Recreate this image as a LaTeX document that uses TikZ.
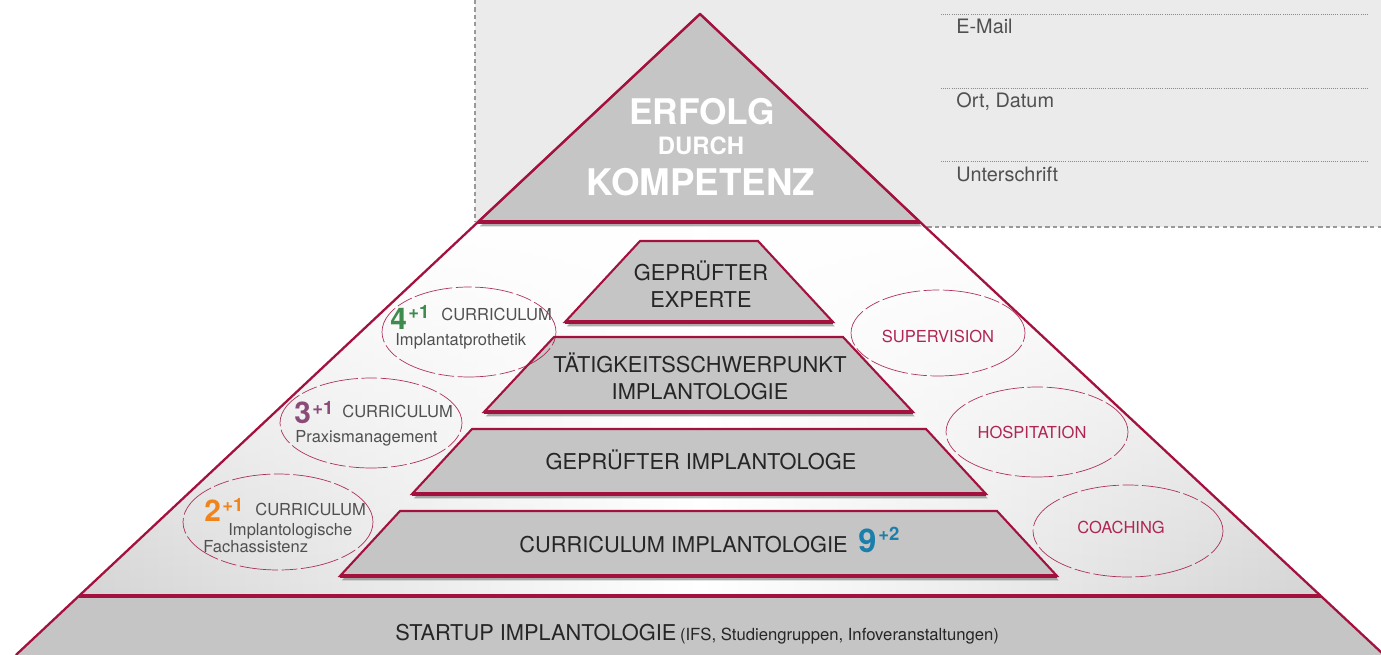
\documentclass[tikz,border=0pt]{standalone}
\usepackage{fontspec}
\setmainfont{TeX Gyre Heros}
\usetikzlibrary{shadows,fadings}
\definecolor{crim}{HTML}{A3123F}
\definecolor{fillg}{HTML}{C4C5C4}
\definecolor{panelg}{HTML}{EBEBEB}
\definecolor{bgg}{HTML}{D4D4D4}
\definecolor{txtd}{HTML}{262626}
\definecolor{txtg}{HTML}{505050}
\definecolor{crimtxt}{HTML}{B02652}
\definecolor{cgreen}{HTML}{3F8B4E}
\definecolor{cpurple}{HTML}{8B4B78}
\definecolor{corange}{HTML}{F0841A}
\definecolor{cblue}{HTML}{1B7EAB}
\tikzfading[name=fadedown, top color=transparent!0, bottom color=transparent!100]
\tikzset{
  edge/.style={draw=crim, line width=1.3pt, line join=round},
  basel/.style={draw=crim, line width=2pt},
  tier/.style={fill=fillg, draw=crim, line width=1.2pt, line join=miter,
    drop shadow={shadow xshift=1pt, shadow yshift=-2.5pt, opacity=0.45, fill=black!70}},
  ell/.style={draw=crim, line width=0.4pt, dash pattern=on 22pt off 2pt on 9pt off 2pt, opacity=0.85},
  tiertxt/.style={font=\fontsize{12.4}{15.3}\selectfont, text=txtd, align=center, inner sep=0pt},
  elltxt/.style={font=\fontsize{9.4}{11}\selectfont, text=txtg, inner sep=0pt, anchor=base west},
  digtxt/.style={font=\fontsize{17}{17}\selectfont\bfseries, inner sep=0pt, anchor=base west},
  suptxt/.style={font=\fontsize{10.5}{11}\selectfont\bfseries, inner sep=0pt, anchor=base west},
  redtxt/.style={font=\fontsize{9.4}{11}\selectfont, text=crimtxt, inner sep=0pt, anchor=base},
  paneltxt/.style={font=\fontsize{11.3}{13}\selectfont, text=txtg, inner sep=0pt, anchor=base west},
  panelline/.style={draw=black!40, line width=0.6pt, dash pattern=on 2.4pt off 1.8pt},
  dotline/.style={draw=black!45, line width=0.4pt, dash pattern=on 0.5pt off 0.7pt},
  toptxt/.style={text=white, inner sep=0pt, anchor=base}
}
\begin{document}
\begin{tikzpicture}[x=0.02cm,y=-0.02cm]
\useasboundingbox (0,0) rectangle (1381,655);
\clip (0,0) rectangle (1381,655);
% form panel
\fill[panelg] (475,0) rectangle (1381,227);
\draw[panelline] (475,0) -- (475,222);
\draw[panelline] (920,227) -- (1381,227);
\coordinate (d1a) at (941,14); \coordinate (d1b) at (1368,14);
\coordinate (d2a) at (941,88); \coordinate (d2b) at (1368,88);
\coordinate (d3a) at (941,161); \coordinate (d3b) at (1368,161);
\draw[dotline] (d1a) -- (d1b);
\draw[dotline] (d2a) -- (d2b);
\draw[dotline] (d3a) -- (d3b);
\node[paneltxt] (email) at (956,34) {E-Mail};
\node[paneltxt] (ort) at (956,108) {Ort, Datum};
\node[paneltxt] (unter) at (956,181) {Unterschrift};
% pyramid coordinates
\coordinate (apex) at (700,14);
\coordinate (tl) at (478,222);
\coordinate (tr) at (920,222);
\coordinate (ml) at (78.8,596);
\coordinate (mr) at (1321.2,596);
\coordinate (bl) at (15.9,655);
\coordinate (br) at (1384.1,655);
% background gradient
\shade[left color=bgg, right color=bgg, middle color=white] (tl)--(tr)--(mr)--(ml)--cycle;
\fill[white, path fading=fadedown] (tl)--(tr)--(mr)--(ml)--cycle;
% startup band
\fill[fillg] (ml)--(mr)--(br)--(bl)--cycle;
\draw[basel] (ml)--(mr);
\draw[edge] (tl)--(bl);
\draw[edge] (tr)--(br);
% top triangle
\path[tier] (apex)--(tr)--(tl)--cycle;
\draw[edge] (tl)--(apex)--(tr);
\draw[basel] (tl)--(tr);
\node[toptxt, font=\fontsize{20.1}{22}\selectfont\bfseries] (erfolg) at (702,125) {ERFOLG};
\node[toptxt, font=\fontsize{13.6}{15}\selectfont\bfseries] (durch) at (701,154) {DURCH};
\node[toptxt, font=\fontsize{20.9}{22}\selectfont\bfseries] (kompetenz) at (701,195) {KOMPETENZ};
% tiers
\path[tier] (565,322)--(640,241)--(758,241)--(833,322)--cycle;
\draw[basel] (565,322)--(833,322);
\path[tier] (484,412)--(554,337)--(843,337)--(913,412)--cycle;
\draw[basel] (484,412)--(913,412);
\path[tier] (412,494)--(472,429)--(926,429)--(986,494)--cycle;
\draw[basel] (412,494)--(986,494);
\path[tier] (340,576)--(400,511)--(997,511)--(1057,576)--cycle;
\draw[basel] (340,576)--(1057,576);
\node[tiertxt] (t1) at (701,284) {GEPRÜFTER\\EXPERTE};
\node[tiertxt] (t2) at (700,376) {TÄTIGKEITSSCHWERPUNKT\\IMPLANTOLOGIE};
\node[tiertxt, anchor=base] (t3) at (701,469) {GEPRÜFTER IMPLANTOLOGE};
\node[tiertxt, anchor=base west] (t4) at (519,552) {CURRICULUM IMPLANTOLOGIE};
\node[digtxt, text=cblue, font=\fontsize{18.5}{19}\selectfont\bfseries] (t4d) at (858,552) {9};
\node[suptxt, text=cblue] (t4s) at (878,540) {+2};
\node[tiertxt, anchor=base west] (st) at (395,640) {STARTUP IMPLANTOLOGIE\,{\fontsize{9.5}{11}\selectfont(IFS, Studiengruppen, Infoveranstaltungen)}};
% left ellipses
\draw[ell] (469,332) ellipse [x radius=1.74cm, y radius=0.9cm];
\draw[ell] (371,423) ellipse [x radius=1.82cm, y radius=0.9cm];
\draw[ell] (278,522) ellipse [x radius=1.9cm, y radius=0.96cm];
\node[digtxt, text=cgreen] (e4d) at (390,329) {4};
\node[suptxt, text=cgreen] (e4s) at (408,318) {+1};
\node[elltxt] (e4c) at (441,320) {CURRICULUM};
\node[elltxt] (e4t) at (395,345) {Implantatprothetik};
\node[digtxt, text=cpurple] (e3d) at (294,423) {3};
\node[suptxt, text=cpurple] (e3s) at (312,414) {+1};
\node[elltxt] (e3c) at (342,417) {CURRICULUM};
\node[elltxt] (e3t) at (295,442) {Praxismanagement};
\node[digtxt, text=corange] (e2d) at (204,521) {2};
\node[suptxt, text=corange] (e2s) at (222,511) {+1};
\node[elltxt] (e2c) at (255,515) {CURRICULUM};
\node[elltxt] (e2t) at (228,535) {Implantologische};
\node[elltxt] (e2u) at (203,552) {Fachassistenz};
% right ellipses
\draw[ell] (938,333) ellipse [x radius=1.74cm, y radius=0.86cm];
\draw[ell] (1037,432) ellipse [x radius=1.82cm, y radius=0.9cm];
\draw[ell] (1128,531) ellipse [x radius=1.9cm, y radius=0.92cm];
\node[redtxt] (sup) at (938,342) {SUPERVISION};
\node[redtxt] (hos) at (1032,438) {HOSPITATION};
\node[redtxt] (coa) at (1121,533) {COACHING};
\end{tikzpicture}
\end{document}
